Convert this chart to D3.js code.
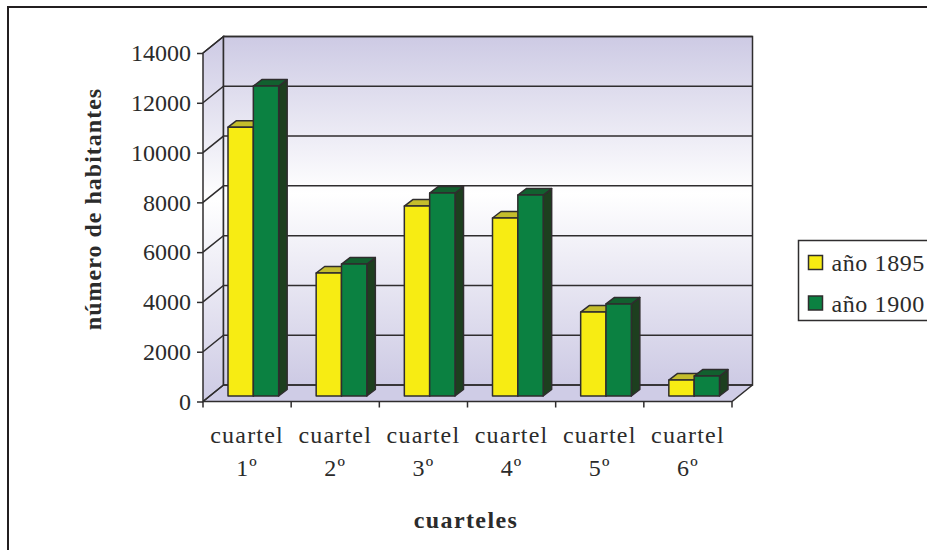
<!DOCTYPE html>
<html>
<head>
<meta charset="utf-8">
<script src="https://cdn.jsdelivr.net/npm/d3@7"></script>
<style>
html, body { margin: 0; padding: 0; background: #fff; }
svg { display: block; }
text { font-family: "Liberation Serif", serif; fill: #2b2b2b; }
</style>
</head>
<body>
<div class="container"></div>
<script>
var categories = ["cuartel 1º", "cuartel 2º", "cuartel 3º", "cuartel 4º", "cuartel 5º", "cuartel 6º"];
var series = ["año 1895", "año 1900"];
var values1895 = [10800, 4940, 7630, 7150, 3370, 640];
var values1900 = [12450, 5300, 8150, 8070, 3700, 800];
var yTicks = [0, 2000, 4000, 6000, 8000, 10000, 12000, 14000];

const WIDTH = 927;
const HEIGHT = 550;
const INK = "#2f2d2e";
const DEPTH_X = 20.5, DEPTH_Y = -16.5;
const BAR_SHIFT_X = 6.5, BAR_SHIFT_Y = -5.5;
const BAR_DX = 8.5, BAR_DY = -6.5;

var colors = [
	{front: "#f7ec13", top: "#c4bd2c", side: "#8a8420"},
	{front: "#0b8141", top: "#12602f", side: "#1d3f1f"}
];

var translate = function(x, y){
	return "translate("+x+","+y+")";
};

var svg = d3.select('.container').append('svg')
	.attr('width', WIDTH)
	.attr('height', HEIGHT);

var xScale = d3.scaleBand().domain(categories).range([203, 732]);
var yScale = d3.scaleLinear().domain([0, 14000]).range([401.5, 53]);
var groupScale = d3.scaleBand().domain(series).range([18.5, xScale.bandwidth() - 19]);

var defs = svg.append('defs');
var wall = defs.append('linearGradient').attr('id', 'wall').attr('x1', 0).attr('x2', 0).attr('y1', 0).attr('y2', 1);
wall.append('stop').attr('offset', '0%').attr('stop-color', '#cdcae4');
wall.append('stop').attr('offset', '45%').attr('stop-color', '#ffffff');
wall.append('stop').attr('offset', '100%').attr('stop-color', '#cdcae4');

// outer frame
svg.append('rect')
	.attr('x', 8).attr('y', 7)
	.attr('width', WIDTH).attr('height', HEIGHT)
	.attr('fill', 'none').attr('stroke', '#231f20').attr('stroke-width', 2);

var y0 = yScale(0), yTop = yScale(14000);
var xL = xScale.range()[0], xR = xScale.range()[1];

// floor and walls
svg.append('path')
	.attr('d', d3.line()([[xL, y0], [xL + DEPTH_X, y0 + DEPTH_Y], [xR + DEPTH_X, y0 + DEPTH_Y], [xR, y0]]) + 'Z')
	.attr('fill', '#cfcce6');
svg.append('path')
	.attr('d', d3.line()([[xL, y0], [xL, yTop], [xL + DEPTH_X, yTop + DEPTH_Y], [xL + DEPTH_X, y0 + DEPTH_Y]]) + 'Z')
	.attr('fill', 'url(#wall)').attr('stroke', INK).attr('stroke-width', 1.5);
svg.append('rect')
	.attr('x', xL + DEPTH_X).attr('y', yTop + DEPTH_Y)
	.attr('width', xR - xL).attr('height', y0 - yTop)
	.attr('fill', 'url(#wall)').attr('stroke', INK).attr('stroke-width', 1.5);

// gridlines on the side and back wall
svg.append('g').selectAll('path').data(yTicks).enter().append('path')
	.attr('d', function(d){
		var y = yScale(d);
		return d3.line()([[xL, y], [xL + DEPTH_X, y + DEPTH_Y], [xR + DEPTH_X, y + DEPTH_Y]]);
	})
	.attr('fill', 'none').attr('stroke', INK).attr('stroke-width', 1.5);

// front floor edge
svg.append('path')
	.attr('d', d3.line()([[xL, y0], [xR, y0], [xR + DEPTH_X, y0 + DEPTH_Y]]))
	.attr('fill', 'none').attr('stroke', INK).attr('stroke-width', 1.5);

// bars
var groups = svg.append('g').selectAll('g').data(categories).enter().append('g')
	.attr('transform', function(d){ return translate(xScale(d) + BAR_SHIFT_X, BAR_SHIFT_Y); });

[values1895, values1900].forEach(function(vals, s){
	var bw = groupScale.bandwidth();
	var bar = groups.append('g')
		.attr('stroke', INK).attr('stroke-width', 1.5).attr('stroke-linejoin', 'round');
	var bx = groupScale(series[s]);
	bar.append('path')
		.attr('fill', colors[s].side)
		.attr('d', function(d, i){
			var t = yScale(vals[i]);
			return d3.line()([[bx + bw, t], [bx + bw + BAR_DX, t + BAR_DY], [bx + bw + BAR_DX, y0 + BAR_DY], [bx + bw, y0]]) + 'Z';
		});
	bar.append('path')
		.attr('fill', colors[s].top)
		.attr('d', function(d, i){
			var t = yScale(vals[i]);
			return d3.line()([[bx, t], [bx + BAR_DX, t + BAR_DY], [bx + bw + BAR_DX, t + BAR_DY], [bx + bw, t]]) + 'Z';
		});
	bar.append('rect')
		.attr('fill', colors[s].front)
		.attr('x', bx).attr('width', bw)
		.attr('y', function(d, i){ return yScale(vals[i]); })
		.attr('height', function(d, i){ return y0 - yScale(vals[i]); });
});

// axes
var yAxis = d3.axisLeft(yScale).tickValues(yTicks).tickSize(6).tickSizeOuter(0).tickPadding(6).tickFormat(d3.format('d'));
var yG = svg.append('g').attr('transform', translate(xL, 0)).call(yAxis);
yG.select('.domain').remove();
yG.selectAll('line').attr('stroke', INK).attr('stroke-width', 1.5);
yG.selectAll('text')
	.attr('font-size', 24).attr('font-family', '"Liberation Serif", serif')
	.attr('dy', '0.32em');

var xTicks = xScale.domain().map(function(d){ return xScale(d); }).concat([xR]);
svg.append('g').selectAll('line').data(xTicks).enter().append('line')
	.attr('x1', function(d){ return d; }).attr('x2', function(d){ return d; })
	.attr('y1', y0).attr('y2', y0 + 6)
	.attr('stroke', INK).attr('stroke-width', 1.5);

var xLabels = svg.append('g').attr('font-size', 24).attr('letter-spacing', 1.2).attr('text-anchor', 'middle')
	.selectAll('g').data(categories).enter().append('g')
	.attr('transform', function(d){ return translate(xScale(d) + xScale.bandwidth() / 2, 0); });
xLabels.append('text').attr('y', 443).text(function(d){ return d.split(' ')[0]; });
xLabels.append('text').attr('y', 476).text(function(d){ return d.split(' ')[1]; });

// axis titles
svg.append('text')
	.attr('x', 466).attr('y', 528).attr('text-anchor', 'middle')
	.attr('font-size', 24).attr('letter-spacing', 1.4).attr('font-weight', 'bold').text('cuarteles');
svg.append('text')
	.attr('transform', translate(101, 209) + ' rotate(-90)').attr('text-anchor', 'middle')
	.attr('font-size', 24).attr('letter-spacing', 1).attr('font-weight', 'bold').text('número de habitantes');

// legend
var legend = svg.append('g').attr('transform', translate(798.5, 240.5));
legend.append('rect')
	.attr('width', 140).attr('height', 80)
	.attr('fill', '#fff').attr('stroke', INK).attr('stroke-width', 1.5);
var legendItems = legend.selectAll('g').data(series).enter().append('g')
	.attr('transform', function(d, i){ return translate(10, 15 + i * 40.5); });
legendItems.append('rect')
	.attr('width', 14).attr('height', 14)
	.attr('fill', function(d, i){ return colors[i].front; })
	.attr('stroke', INK).attr('stroke-width', 1.5);
legendItems.append('text')
	.attr('x', 23).attr('y', 15.5).attr('font-size', 24).attr('letter-spacing', 0.6)
	.text(function(d){ return d; });
</script>
</body>
</html>
